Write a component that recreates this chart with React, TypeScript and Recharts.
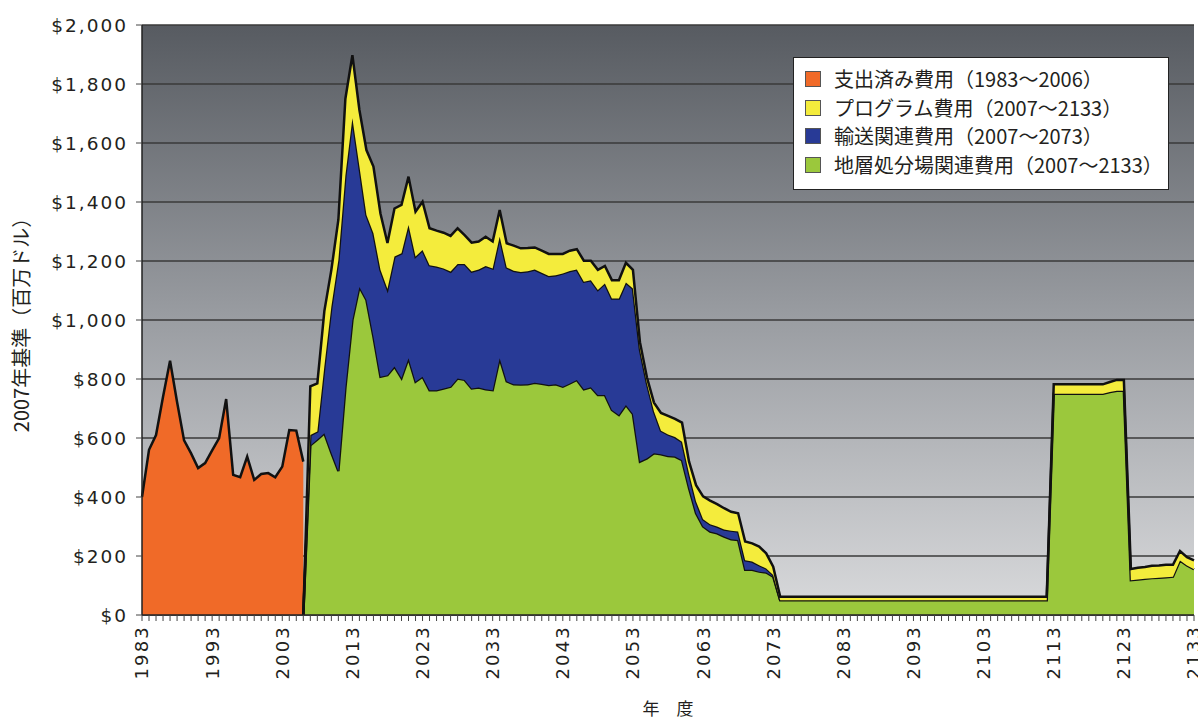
import { AreaChart, Area, XAxis, YAxis, CartesianGrid, Legend } from "recharts";

// 支出済み費用 1983〜2006
const SPENT_START = 1983;
const spentCosts = [
  400, 560, 610, 740, 862, 722, 592, 548, 498, 515, 558, 600, 732, 475, 467, 537,
  458, 478, 481, 467, 503, 627, 625, 520,
];

// 2006 (0) 〜 2133
const FUTURE_START = 2006;
const repositoryCosts = [
  0,
  575, 595, 616, 550, 488, 770, 1000, 1112, 1068, 943,
  808, 813, 842, 803, 870, 791, 808, 762, 762, 768,
  774, 802, 797, 768, 771, 765, 762, 870, 792, 782,
  781, 782, 787, 784, 780, 782, 774, 785, 797, 765,
  772, 746, 746, 695, 678, 712, 681, 520, 531, 548,
  545, 539, 537, 525, 430, 345, 300, 283, 277, 266,
  257, 254, 153, 153, 147, 144, 130, 50, 50, 50,
  50, 50, 50, 50, 50, 50, 50, 50, 50, 50,
  50, 50, 50, 50, 50, 50, 50, 50, 50, 50,
  50, 50, 50, 50, 50, 50, 50, 50, 50, 50,
  50, 50, 50, 50, 50, 50, 750, 750, 750, 750,
  750, 750, 750, 750, 756, 760, 760, 118, 120, 123,
  125, 126, 128, 130, 185, 168, 155,
];

const transportCosts = [
  0,
  35, 27, 226, 495, 715, 720, 684, 408, 288, 351,
  362, 292, 373, 423, 452, 424, 429, 424, 419, 407,
  390, 388, 393, 396, 400, 418, 413, 412, 386, 385,
  382, 383, 384, 376, 369, 370, 384, 381, 374, 365,
  363, 356, 378, 378, 395, 415, 426, 380, 254, 142,
  80, 73, 66, 62, 50, 40, 25, 25, 23, 24,
  29, 29, 33, 28, 22, 14, 6, 0,
];

const programCosts = [
  0,
  165, 163, 188, 125, 137, 260, 214, 192, 220, 226,
  191, 156, 163, 164, 164, 152, 164, 125, 122, 121,
  121, 121, 98, 98, 95, 99, 91, 91, 82, 85,
  80, 79, 75, 75, 75, 72, 66, 69, 69, 71,
  66, 68, 59, 62, 62, 67, 63, 25, 20, 30,
  60, 63, 62, 65, 40, 55, 77, 80, 76, 72,
  64, 62, 63, 62, 63, 51, 28, 12, 12, 12,
  12, 12, 12, 12, 12, 12, 12, 12, 12, 12,
  12, 12, 12, 12, 12, 12, 12, 12, 12, 12,
  12, 12, 12, 12, 12, 12, 12, 12, 12, 12,
  12, 12, 12, 12, 12, 12, 32, 32, 32, 32,
  32, 32, 32, 32, 34, 37, 37, 38, 40, 40,
  42, 42, 42, 40, 32, 28, 30,
];

const FIRST_YEAR = 1983;
const LAST_YEAR = 2133;
const years = Array.from({ length: LAST_YEAR - FIRST_YEAR + 1 }, (_, i) => FIRST_YEAR + i);
const yearLabels = [1983, 1993, 2003, 2013, 2023, 2033, 2043, 2053, 2063, 2073, 2083, 2093, 2103, 2113, 2123, 2133];
const yTicks = [0, 200, 400, 600, 800, 1000, 1200, 1400, 1600, 1800, 2000];

const legendItems = [
  { key: "spent", label: "支出済み費用（1983〜2006）" },
  { key: "program", label: "プログラム費用（2007〜2133）" },
  { key: "transport", label: "輸送関連費用（2007〜2073）" },
  { key: "repository", label: "地層処分場関連費用（2007〜2133）" },
];

const COLORS: Record<string, string> = {
  spent: "#f06a28",
  program: "#f4ec3c",
  transport: "#283a96",
  repository: "#9bc83c",
};

const pick = (arr: number[], i: number) => (i >= 0 && i < arr.length ? arr[i] : null);

const data = years.map((year) => ({
  year,
  spent: pick(spentCosts, year - SPENT_START),
  repository: pick(repositoryCosts, year - FUTURE_START),
  transport: pick(transportCosts, year - FUTURE_START),
  program: pick(programCosts, year - FUTURE_START),
}));

const TEXT = "#231f20";
const TICK_FONT = "'DejaVu Sans', sans-serif";
const JP_FONT = "'Noto Sans CJK JP', sans-serif";

const YearTick = (props: any) => {
  const { x, y, payload } = props;
  if (!yearLabels.includes(payload.value)) return <g />;
  return (
    <text
      x={x}
      y={y + 2}
      transform={`rotate(-90, ${x}, ${y + 2})`}
      textAnchor="end"
      dy="0.36em"
      fontSize={18}
      letterSpacing={2.2}
      fontFamily={TICK_FONT}
      fill={TEXT}
    >
      {payload.value}
    </text>
  );
};

const LegendBox = () => (
  <div
    style={{
      background: "#fff",
      border: "1px solid #222",
      padding: "7px 10px 7px 11px",
      boxSizing: "border-box",
      height: 133,
      fontFamily: JP_FONT,
      fontSize: 20,
      color: TEXT,
    }}
  >
    {legendItems.map((item) => (
      <div key={item.key} style={{ display: "flex", alignItems: "center", height: 28.5 }}>
        <span
          style={{
            width: 16,
            height: 16,
            background: COLORS[item.key],
            border: "1px solid #555",
            boxSizing: "border-box",
            marginRight: 13,
            flexShrink: 0,
          }}
        />
        <span style={{ whiteSpace: "nowrap", lineHeight: "28px" }}>{item.label}</span>
      </div>
    ))}
  </div>
);

export default function App() {
  const fmt = (v: number) => "$" + v.toLocaleString("en-US");
  return (
    <div style={{ position: "absolute", left: 0, top: 0, width: 1198, height: 722, background: "#fff" }}>
      <AreaChart width={1198} height={722} data={data} margin={{ top: 25, right: 4, left: 0, bottom: 0 }}>
        <defs>
          <linearGradient id="plotBg" x1="0" y1="0" x2="0" y2="1">
            <stop offset="0%" stopColor="#575b61" />
            <stop offset="50%" stopColor="#9a9da2" />
            <stop offset="100%" stopColor="#d9dadc" />
          </linearGradient>
        </defs>
        <CartesianGrid vertical={false} stroke="#3a3a3a" strokeWidth={1.3} fill="url(#plotBg)" fillOpacity={1} />
        <XAxis
          dataKey="year"
          type="number"
          domain={[FIRST_YEAR, LAST_YEAR]}
          ticks={years}
          interval={0}
          tick={<YearTick />}
          tickSize={6}
          tickLine={{ stroke: "#444" }}
          axisLine={{ stroke: "#222", strokeWidth: 1.5 }}
          height={107}
          label={{
            value: "年　度",
            position: "insideBottom",
            offset: 7,
            style: { fontSize: 17, fill: TEXT, fontFamily: JP_FONT },
          }}
        />
        <YAxis
          type="number"
          domain={[0, 2000]}
          ticks={yTicks}
          interval={0}
          width={142}
          tickSize={6}
          tickMargin={8}
          tickFormatter={fmt}
          tick={{ fontSize: 18.5, fill: TEXT, fontFamily: TICK_FONT, letterSpacing: 2 }}
          tickLine={{ stroke: "#444" }}
          axisLine={{ stroke: "#222", strokeWidth: 1.5 }}
          label={{
            value: "2007年基準（百万ドル）",
            angle: -90,
            position: "insideLeft",
            offset: 22,
            style: { textAnchor: "middle", fontSize: 20, fill: TEXT, fontFamily: JP_FONT },
          }}
        />
        <Area
          type="linear"
          dataKey="spent"
          stroke="#111"
          strokeWidth={2.5}
          fill={COLORS.spent}
          fillOpacity={1}
          dot={false}
          activeDot={false}
          isAnimationActive={false}
        />
        <Area
          type="linear"
          dataKey="repository"
          stackId="future"
          stroke="#111"
          strokeWidth={2.5}
          fill={COLORS.repository}
          fillOpacity={1}
          dot={false}
          activeDot={false}
          isAnimationActive={false}
        />
        <Area
          type="linear"
          dataKey="transport"
          stackId="future"
          stroke="#111"
          strokeWidth={2.5}
          fill={COLORS.transport}
          fillOpacity={1}
          dot={false}
          activeDot={false}
          isAnimationActive={false}
        />
        <Area
          type="linear"
          dataKey="program"
          stackId="future"
          stroke="#111"
          strokeWidth={2.5}
          fill={COLORS.program}
          fillOpacity={1}
          dot={false}
          activeDot={false}
          isAnimationActive={false}
        />
        <Legend
          layout="horizontal"
          align="center"
          verticalAlign="middle"
          wrapperStyle={{ left: 793, top: 57, width: 376 }}
          content={() => <LegendBox />}
        />
      </AreaChart>
    </div>
  );
}
